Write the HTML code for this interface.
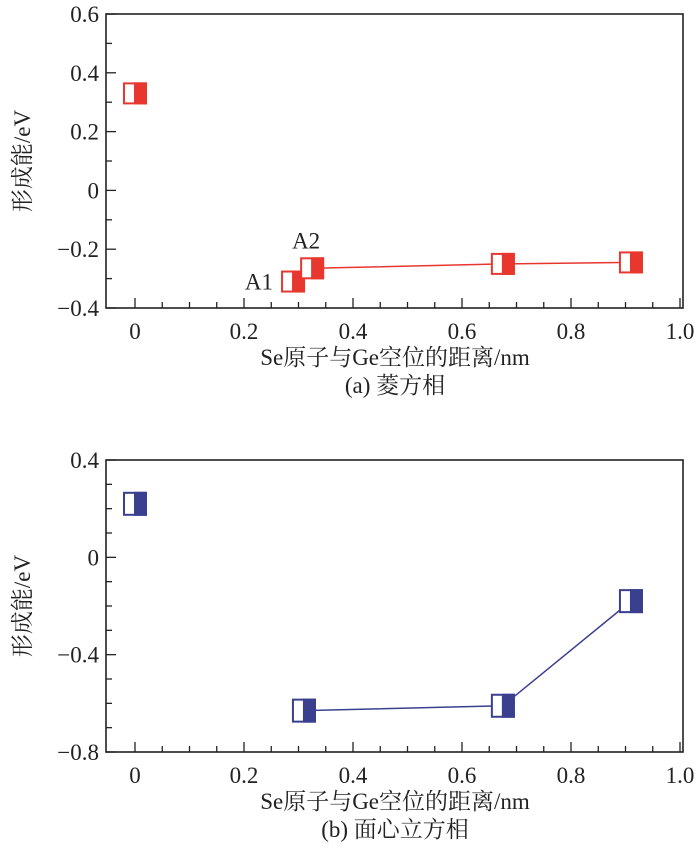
<!DOCTYPE html>
<html><head><meta charset="utf-8"><style>
html,body{margin:0;padding:0;background:#fff;}
svg text{font-family:"Liberation Serif","Noto Serif CJK SC",serif;fill:#222;}
</style></head><body>
<svg id="c" width="700" height="860" viewBox="0 0 700 860" xmlns="http://www.w3.org/2000/svg"></svg>
<script>
// chart (a)
const aX = [0, 0.29, 0.325, 0.675, 0.91];
const aY = [0.33, -0.31, -0.265, -0.25, -0.245];
const aYTicks = [0.6, 0.4, 0.2, 0, -0.2, -0.4];
const aYLabels = ["0.6","0.4","0.2","0","\u22120.2","\u22120.4"];
// chart (b)
const bX = [0, 0.31, 0.675, 0.91];
const bY = [0.22, -0.63, -0.61, -0.18];
const bYTicks = [0.4, 0, -0.4, -0.8];
const bYLabels = ["0.4","0","\u22120.4","\u22120.8"];
const xTicks = [0, 0.2, 0.4, 0.6, 0.8, 1.0];
const xLabels = ["0","0.2","0.4","0.6","0.8","1.0"];

const NS="http://www.w3.org/2000/svg";
const svg=document.getElementById('c');
function el(t,a,p){const e=document.createElementNS(NS,t);for(const k in a)e.setAttribute(k,a[k]);(p||svg).appendChild(e);return e;}
function txt(s,a,p){const e=el('text',a,p);e.textContent=s;return e;}

function chart(cfg){
  const g=el('g',{});
  
  
  const L=106,R=683,T=cfg.top,B=cfg.bot;
  const sx=v=>135+v*(680-135);
  const sy=v=>T+(cfg.ymax-v)/(cfg.ymax-cfg.ymin)*(B-T);
  const frame=el('rect',{x:L,y:T,width:R-L,height:B-T,fill:'none',stroke:'#222','stroke-width':1.6},g);
  
  
  for(let v=0;v<=1.0001;v+=0.05){
    const major=Math.abs(v/0.2-Math.round(v/0.2))<1e-6;
    el('line',{x1:sx(v),x2:sx(v),y1:B,y2:B-(major?10:6),stroke:'#222','stroke-width':1.3},g);
  }
  xTicks.forEach((v,i)=>{const t=txt(xLabels[i],{x:sx(v),y:B+31,'font-size':23,'text-anchor':'middle'},g);
    });
  for(let v=cfg.ymin;v<=cfg.ymax+1e-6;v+=cfg.minor){
    const major=Math.abs((v-cfg.ymin)/cfg.major-Math.round((v-cfg.ymin)/cfg.major))<1e-6;
    el('line',{x1:L,x2:L+(major?10:6),y1:sy(v),y2:sy(v),stroke:'#222','stroke-width':1.3},g);
  }
  cfg.yt.forEach((v,i)=>{const t=txt(cfg.yl[i],{x:L-7,y:sy(v)+8,'font-size':23,'text-anchor':'end'},g);
    });
  const yt=txt('形成能/eV',{x:0,y:0,'font-size':23,'text-anchor':'middle',transform:`translate(30,${(T+B)/2}) rotate(-90)`},g);
  
  const xt=txt('Se原子与Ge空位的距离/nm',{x:395,y:B+57,'font-size':23,'text-anchor':'middle'},g);
  
  const cp=txt(cfg.caption,{x:395,y:B+85,'font-size':23,'text-anchor':'middle'},g);
  
  const pts=[];for(let i=cfg.lineFrom;i<cfg.xs.length;i++)pts.push(sx(cfg.xs[i])+','+sy(cfg.ys[i]));
  const pl=el('polyline',{points:pts.join(' '),fill:'none',stroke:cfg.color,'stroke-width':1.5},g);
  
  if(cfg.dash){const d=el('line',{x1:sx(cfg.xs[1]),y1:sy(cfg.ys[1]),x2:sx(cfg.xs[2]),y2:sy(cfg.ys[2]),stroke:cfg.color,'stroke-width':1.5},g);
    }
  const w=cfg.mw,h=cfg.mh;
  cfg.xs.forEach((v,i)=>{
    const m=el('g',{},g);
    
    
    const cx=sx(v),cy=sy(cfg.ys[i]);
    el('rect',{x:cx-w/2,y:cy-h/2,width:w,height:h,fill:'#fff',stroke:cfg.color,'stroke-width':2},m);
    el('rect',{x:cx,y:cy-h/2,width:w/2,height:h,fill:cfg.color,stroke:cfg.color,'stroke-width':2},m);
  });
  return {sx,sy,g};
}
const a=chart({name:'chart-a-rhombohedral',top:14,bot:308,ymin:-0.4,ymax:0.6,major:0.2,minor:0.1,yt:aYTicks,yl:aYLabels,
  xs:aX,ys:aY,color:'#e8372e',lineFrom:2,dash:true,mw:22,mh:20,caption:'(a) 菱方相'});
const la=txt('A1',{x:a.sx(aX[1])-20,y:a.sy(aY[1])+8,'font-size':23,'text-anchor':'end'},a.g);

const lb=txt('A2',{x:a.sx(aX[2])-6,y:a.sy(aY[2])-20,'font-size':23,'text-anchor':'middle'},a.g);

chart({name:'chart-b-fcc',top:460,bot:752,ymin:-0.8,ymax:0.4,major:0.4,minor:0.1,yt:bYTicks,yl:bYLabels,
  xs:bX,ys:bY,color:'#3a3f8e',lineFrom:1,dash:false,mw:22,mh:22,caption:'(b) 面心立方相'});
</script>
</body></html>
